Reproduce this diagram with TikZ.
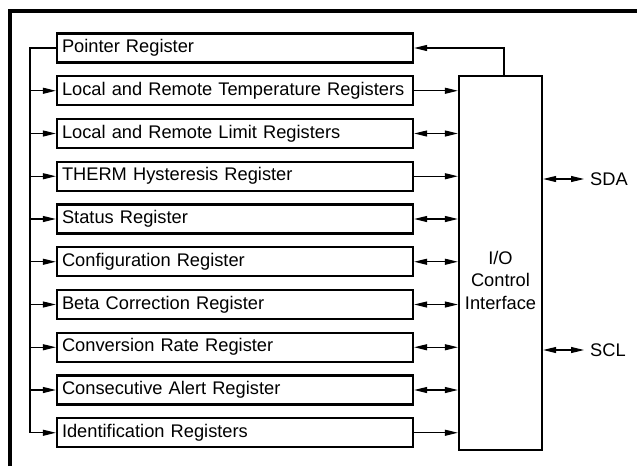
\documentclass[tikz,border=0pt]{standalone}
\usepackage{fontspec}
\setmainfont{Liberation Sans}
\usetikzlibrary{arrows.meta,positioning}

\begin{document}
\begin{tikzpicture}[
  font=\fontsize{10.4}{12.8}\selectfont,
  reg/.style={draw,line width=1.3pt,minimum width=7.12cm,minimum height=0.58cm,
              inner xsep=0.1cm,text width=6.92cm,align=left},
  iobox/.style={draw,line width=1.3pt,minimum width=1.66cm,minimum height=7.48cm},
  conn/.style={line width=0.6pt},
  tip/.style={-{Triangle[length=0.26cm,width=0.12cm]}},
  both/.style={{Triangle[length=0.26cm,width=0.12cm]}-{Triangle[length=0.26cm,width=0.12cm]}},
  frame/.style={line width=1.8pt}
]
\useasboundingbox (0,0) rectangle (12.74,-9.32);

% ---- Outer frame ---------------------------------------------
\draw[frame] (0.2,-9.32) |- (12.74,-0.22);

% ---- Registers -----------------------------------------------
\node[reg] (r1)  at (4.70,-0.96)  {Pointer Register};
\node[reg] (r2)  at (4.70,-1.815) {Local and Remote Temperature Registers};
\node[reg] (r3)  at (4.70,-2.67)  {Local and Remote Limit Registers};
\node[reg] (r4)  at (4.70,-3.525) {THERM Hysteresis Register};
\node[reg] (r5)  at (4.70,-4.38)  {Status Register};
\node[reg] (r6)  at (4.70,-5.235) {Configuration Register};
\node[reg] (r7)  at (4.70,-6.09)  {Beta Correction Register};
\node[reg] (r8)  at (4.70,-6.945) {Conversion Rate Register};
\node[reg] (r9)  at (4.70,-7.80)  {Consecutive Alert Register};
\node[reg] (r10) at (4.70,-8.655) {Identification Registers};

% ---- I/O block and serial lines ------------------------------
\node[iobox] (io) at (10.01,-5.26) {};
\node[align=center] (iotxt) at (10.01,-5.60) {I/O\\Control\\Interface};
\node[anchor=west] (sda) at (11.68,-3.58) {SDA};
\node[anchor=west] (scl) at (11.68,-7.00) {SCL};

% Pointer feeds the register select bus
\coordinate (bus) at (0.6,0);
\draw[conn] (r1.west) -| (bus |- r10.west);
\draw[conn,tip] (bus |- r2.west)  -- (r2.west);
\draw[conn,tip] (bus |- r3.west)  -- (r3.west);
\draw[conn,tip] (bus |- r4.west)  -- (r4.west);
\draw[conn,tip] (bus |- r5.west)  -- (r5.west);
\draw[conn,tip] (bus |- r6.west)  -- (r6.west);
\draw[conn,tip] (bus |- r7.west)  -- (r7.west);
\draw[conn,tip] (bus |- r8.west)  -- (r8.west);
\draw[conn,tip] (bus |- r9.west)  -- (r9.west);
\draw[conn,tip] (bus |- r10.west) -- (r10.west);

% Data paths to the interface
\draw[conn,tip]  ([xshift=0.07cm]io.north) |- (r1.east);
\draw[conn,tip]  (r2.east)  -- (io.west |- r2.east);
\draw[conn,both] (r3.east)  -- (io.west |- r3.east);
\draw[conn,tip]  (r4.east)  -- (io.west |- r4.east);
\draw[conn,both] (r5.east)  -- (io.west |- r5.east);
\draw[conn,both] (r6.east)  -- (io.west |- r6.east);
\draw[conn,both] (r7.east)  -- (io.west |- r7.east);
\draw[conn,both] (r8.east)  -- (io.west |- r8.east);
\draw[conn,both] (r9.east)  -- (io.west |- r9.east);
\draw[conn,tip]  (r10.east) -- (io.west |- r10.east);

\draw[conn,both] (io.east |- sda.west) -- (sda.west);
\draw[conn,both] (io.east |- scl.west) -- (scl.west);

\end{tikzpicture}
\end{document}
